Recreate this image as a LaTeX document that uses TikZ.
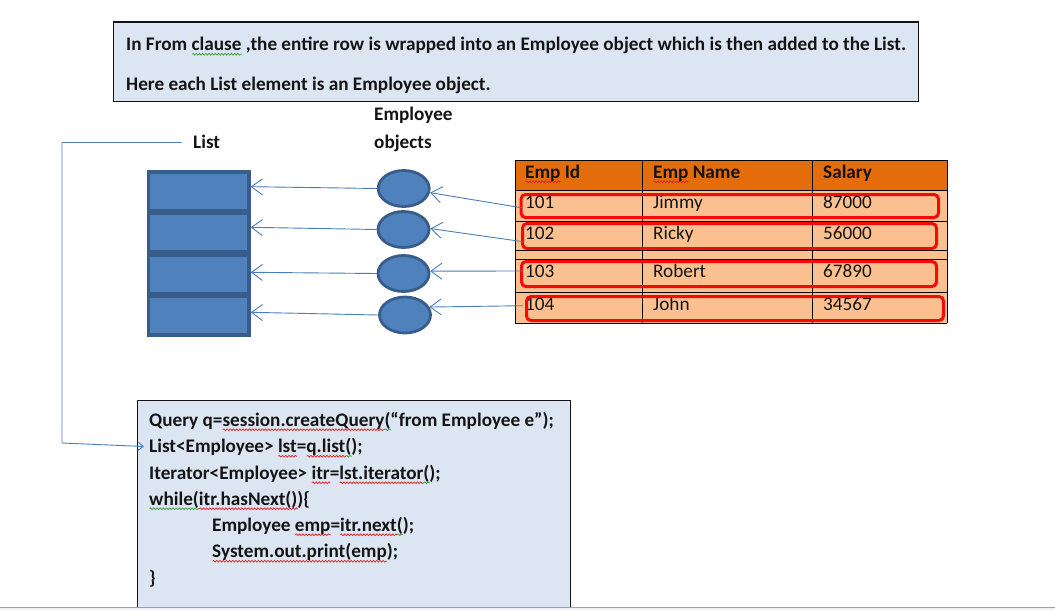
\documentclass[tikz,border=0pt]{standalone}
\usepackage{fontspec}
\setmainfont{Carlito}
\usetikzlibrary{arrows.meta,calc,shapes.geometric,decorations.pathmorphing}

\definecolor{boxblue}{HTML}{DCE6F2}
\definecolor{accblue}{HTML}{4F81BD}
\definecolor{edgeblue}{HTML}{385D8A}
\definecolor{linkblue}{HTML}{4A7EBB}
\definecolor{hdrorange}{HTML}{E46C0A}
\definecolor{rowpeach}{HTML}{FAC090}
\definecolor{markred}{HTML}{F50A0A}
\definecolor{inkdark}{HTML}{141414}
\definecolor{wavegreen}{HTML}{3A9A3A}
\definecolor{wavered}{HTML}{E02020}
\definecolor{stripgray}{HTML}{EEF1F6}
\definecolor{stripline}{HTML}{A0A0A0}

% wavy spell-check style underline drawn below a piece of text
\newsavebox\wavebox
\newcommand\spellmark[2]{\sbox\wavebox{#2}%
  \rlap{\smash{\raisebox{-5pt}{\tikz[x=1pt,y=1pt]\draw[#1,line width=0.7pt,
    decorate,decoration={snake,amplitude=0.9pt,segment length=3.2pt}]
    (0,0)--(\wd\wavebox,0);}}}\usebox\wavebox}
\newcommand\redwave[1]{\spellmark{wavered}{#1}}
\newcommand\greenwave[1]{\spellmark{wavegreen}{#1}}

\tikzset{
  boldtxt/.style={inner sep=0pt, anchor=base west, text=inkdark,
    font=\fontsize{19.2}{23}\selectfont\bfseries},
  celltxt/.style={inner sep=0pt, anchor=base west, text=inkdark,
    font=\fontsize{19.2}{23}\selectfont},
  notebox/.style={draw=inkdark, line width=1.2pt, fill=boxblue, inner sep=0pt,
    anchor=north west},
  listcell/.style={rectangle, draw=edgeblue, fill=accblue, line width=3.5pt,
    minimum width=100.5pt, minimum height=38.5pt, inner sep=0pt},
  empobj/.style={ellipse, draw=edgeblue, fill=accblue, line width=2.8pt,
    minimum width=51pt, minimum height=36pt, inner sep=0pt},
  rowmark/.style={rectangle, rounded corners=4.5pt, draw=markred, line width=3pt,
    inner sep=0pt},
  link/.style={draw=linkblue, line width=0.9pt,
    -{Straight Barb[length=11pt,width=16pt,line width=0.9pt]}},
  smalllink/.style={draw=linkblue, line width=0.9pt,
    -{Straight Barb[length=5pt,width=8pt,line width=0.9pt]}},
  grid/.style={draw=black, line width=1pt}
}

\begin{document}
\begin{tikzpicture}[x=1pt,y=-1pt]
  % page
  \fill[white] (0,0) rectangle (1055,610);
  \useasboundingbox (0,0) rectangle (1055,610);

  % explanatory note
  \node[notebox, minimum width=805pt, minimum height=79pt] (note) at (112.5,21.5) {};
  \node[boldtxt] (note1) at (126,50.5)
    {In From \greenwave{clause} ,the entire row is wrapped into an Employee object which is then added to the List.};
  \node[boldtxt] (note2) at (126,90) {Here each List element is an Employee object.};

  % labels
  \node[boldtxt] (listlbl) at (193,148) {List};
  \node[boldtxt] (objlbl1) at (374,121) {Employee};
  \node[boldtxt] (objlbl2) at (374,148) {objects};

  % list cells
  \node[listcell] (r1) at (198.7,191) {};
  \node[listcell] (r2) at (198.7,232) {};
  \node[listcell] (r3) at (198.7,274) {};
  \node[listcell] (r4) at (198.7,315.5) {};

  % employee objects
  \node[empobj] (e1) at (403.7,188.5) {};
  \node[empobj] (e2) at (403.5,229.5) {};
  \node[empobj] (e3) at (403.5,273.5) {};
  \node[empobj] (e4) at (405,315) {};

  % table body
  \fill[hdrorange] (515,160) rectangle (947,190);
  \fill[rowpeach] (515,190) rectangle (947,323);
  \foreach \yy in {160,190,221,250,259,292,323}
    \draw[grid] (515,\yy) -- (947,\yy);
  \foreach \xx in {515,642,812,947}
    \draw[grid] (\xx,160) -- (\xx,323);

  % header
  \node[boldtxt] (h1) at (525,178) {\redwave{Emp} Id};
  \node[boldtxt] (h2) at (653,178) {\redwave{Emp} Name};
  \node[boldtxt] (h3) at (823,178) {Salary};

  % rows
  \node[celltxt] (c11) at (525,208.5) {101};
  \node[celltxt] (c12) at (653,208.5) {Jimmy};
  \node[celltxt] (c13) at (823,208.5) {87000};
  \node[celltxt] (c21) at (525,239.5) {102};
  \node[celltxt] (c22) at (653,239.5) {Ricky};
  \node[celltxt] (c23) at (823,239.5) {56000};
  \node[celltxt] (c31) at (525,277) {103};
  \node[celltxt] (c32) at (653,277) {Robert};
  \node[celltxt] (c33) at (823,277) {67890};
  \node[celltxt] (c41) at (525,310) {104};
  \node[celltxt] (c42) at (653,310) {John};
  \node[celltxt] (c43) at (823,310) {34567};

  % row highlights
  \node[rowmark, minimum width=417.5pt, minimum height=23pt] (m1) at (729.75,206) {};
  \node[rowmark, minimum width=414pt, minimum height=25pt] (m2) at (729.5,236) {};
  \node[rowmark, minimum width=415pt, minimum height=25pt] (m3) at (729,274) {};
  \node[rowmark, minimum width=417pt, minimum height=24pt] (m4) at (735,308.5) {};

  % row -> object
  \coordinate (src1) at (523,208);
  \coordinate (src2) at (523,241.7);
  \coordinate (src3) at (523,271);
  \coordinate (src4) at (523,305.7);
  \draw[link] (src1) -- (e1.-9);
  \draw[link] (src2) -- (e2.2);
  \draw[link] (src3) -- (e3.5);
  \draw[link] (src4) -- (e4.18);

  % object -> list cell
  \draw[link] (e1.west) -- ($(r1.east)+(0,-4.3)$);
  \draw[link] (e2.west) -- ($(r2.east)+(0,-4.7)$);
  \draw[link] (e3.west) -- ($(r3.east)+(0,-1.7)$);
  \draw[link] (e4.west) -- ($(r4.east)+(0,-3.2)$);

  % code listing
  \node[notebox, minimum width=433pt, minimum height=220pt] (code) at (137,400) {};
  \node[boldtxt] (code1) at (149,426)
    {Query q=\redwave{session.createQuery}\greenwave{(}“from Employee e”);};
  \node[boldtxt] (code2) at (149,452.5)
    {List<Employee> \redwave{lst}=\redwave{q.list}\greenwave{(});};
  \node[boldtxt] (code3) at (149,479)
    {Iterator<Employee> \redwave{itr}=\redwave{lst.iterator}\greenwave{(});};
  \node[boldtxt] (code4) at (149,505)
    {\greenwave{while(}\redwave{itr.hasNext()})\{};
  \node[boldtxt] (code5) at (212,531)
    {Employee \redwave{emp}=\redwave{itr.next}\greenwave{(});};
  \node[boldtxt] (code6) at (212,557.5)
    {\redwave{System.out.print(emp}); };
  \node[boldtxt] (code7) at (149,584) {\}};

  % list -> code connector
  \coordinate (listtail) at (181.5,142.5);
  \coordinate (bendtop) at (62,142.5);
  \coordinate (bendlow) at (62,443);
  \draw[smalllink] (listtail) -- (bendtop) -- (bendlow) -- ($(code2.base west)+(-5,-6)$);

  % bottom strip
  \fill[stripgray] (0,607.5) rectangle (1055,610);
  \draw[stripline, line width=1.2pt] (0,607.3) -- (1055,607.3);
\end{tikzpicture}
\end{document}
